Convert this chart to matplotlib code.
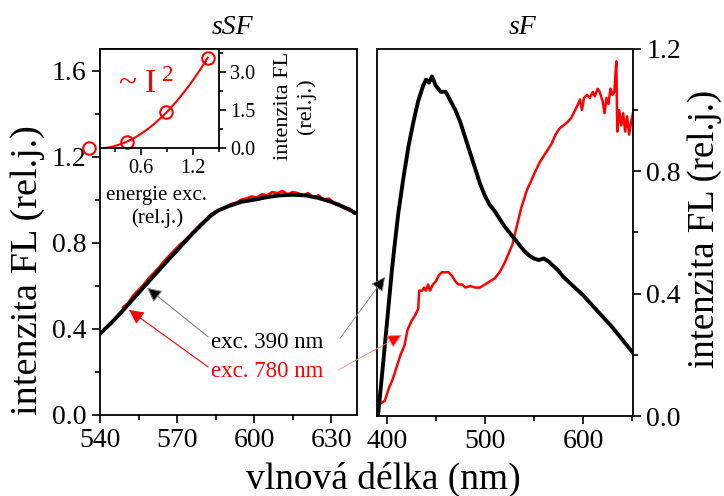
import matplotlib
matplotlib.use("Agg")
import matplotlib.pyplot as plt
import numpy as np
from matplotlib.ticker import MultipleLocator

plt.rcParams['font.family'] = ['Liberation Serif', 'DejaVu Serif']
plt.rcParams['mathtext.fontset'] = 'custom'
plt.rcParams['mathtext.rm'] = 'Liberation Serif'
plt.rcParams['mathtext.it'] = 'Liberation Serif:italic'

# sSF panel (left)
ssf_black_nm = [540, 545, 550, 555, 560, 565, 570, 575, 580, 583, 586, 590, 595,
                600, 605, 610, 615, 620, 625, 630, 635, 640]
ssf_black = [0.377, 0.435, 0.50, 0.567, 0.634, 0.70, 0.765, 0.83, 0.89, 0.925,
             0.95, 0.97, 0.99, 1.0, 1.012, 1.02, 1.023, 1.02, 1.008, 0.99, 0.965, 0.935]
ssf_red_nm = [549, 551, 553, 555, 557, 559, 561, 563, 565, 567, 569, 571, 573, 575,
              577, 579, 581, 583, 585, 587, 589, 591, 593, 595, 597, 599, 601, 603,
              605, 607, 609, 611, 613, 615, 617, 619, 621, 623, 625, 627, 629, 631,
              633, 635, 637, 639, 640]
ssf_red = [0.50, 0.52, 0.555, 0.58, 0.605, 0.635, 0.66, 0.685, 0.715, 0.74, 0.765,
           0.79, 0.81, 0.835, 0.86, 0.885, 0.905, 0.93, 0.945, 0.955, 0.965, 0.98,
           0.985, 1.0, 1.005, 1.015, 1.01, 1.025, 1.02, 1.035, 1.03, 1.04, 1.025,
           1.035, 1.03, 1.02, 1.03, 1.01, 1.02, 1.0, 1.005, 0.985, 0.98, 0.96, 0.96,
           0.935, 0.94]

# sF panel (right)
sf_black_nm = [391, 395, 400, 405, 408, 412, 417, 422, 427, 432, 437, 440, 443, 446,
               450, 455, 460, 465, 470, 475, 480, 485, 490, 495, 500, 505, 510, 515,
               520, 525, 530, 535, 540, 545, 550, 555, 560, 565, 570, 575, 580, 590,
               600, 610, 620, 630, 640, 650]
sf_black = [0.0, 0.13, 0.30, 0.47, 0.56, 0.67, 0.78, 0.88, 0.96, 1.03, 1.08, 1.10,
            1.09, 1.11, 1.08, 1.06, 1.06, 1.03, 1.0, 0.96, 0.91, 0.86, 0.81, 0.76,
            0.72, 0.69, 0.67, 0.645, 0.62, 0.60, 0.58, 0.56, 0.54, 0.525, 0.515,
            0.51, 0.515, 0.505, 0.49, 0.475, 0.455, 0.425, 0.395, 0.36, 0.325, 0.29,
            0.25, 0.21]
sf_red_nm = [390, 393, 398, 402, 406, 410, 414, 418, 421, 425, 429, 432, 433, 436,
             438, 440, 442, 444, 447, 450, 453, 456, 460, 463, 466, 470, 473, 477,
             480, 485, 490, 495, 500, 505, 510, 515, 520, 524, 528, 531, 534, 537,
             540, 543, 546, 550, 553, 556, 560, 564, 568, 572, 576, 580, 584, 588,
             592, 595, 597, 599, 601, 604, 607, 610, 612, 615, 617, 620, 622, 624,
             626, 628, 630, 632, 634, 635, 637, 639, 641, 643, 645, 647, 649, 651]
sf_red = [0.05, 0.04, 0.05, 0.09, 0.12, 0.16, 0.20, 0.23, 0.28, 0.31, 0.33, 0.35,
          0.41, 0.41, 0.42, 0.41, 0.43, 0.41, 0.43, 0.44, 0.46, 0.47, 0.47, 0.47,
          0.46, 0.44, 0.43, 0.43, 0.42, 0.425, 0.42, 0.42, 0.43, 0.44, 0.45, 0.47,
          0.50, 0.53, 0.56, 0.60, 0.64, 0.68, 0.71, 0.74, 0.76, 0.79, 0.81, 0.83,
          0.85, 0.87, 0.89, 0.92, 0.94, 0.95, 0.96, 0.975, 1.0, 1.02, 1.035, 1.0,
          1.04, 1.05, 1.04, 1.06, 1.045, 1.07, 1.06, 1.03, 0.99, 1.04, 1.02, 1.07,
          1.05, 1.06, 1.16, 0.93, 1.0, 0.95, 0.99, 0.93, 0.98, 0.92, 0.96, 0.99]

# inset: FL intensity vs excitation energy
inset_energy = [0.0, 0.44, 0.89, 1.37]
inset_fl = [0.0, 0.23, 1.42, 3.55]

W, H = 724, 496
fig = plt.figure(figsize=(W / 100, H / 100), dpi=100)


def box(x0, y0, x1, y1):
    return [x0 / W, 1 - y1 / H, (x1 - x0) / W, (y1 - y0) / H]


def style(ax, size=20):
    for s in ax.spines.values():
        s.set_linewidth(1.3)
    ax.tick_params(which='both', direction='out', width=1.2, labelsize=size)
    ax.tick_params(which='major', length=6)
    ax.tick_params(which='minor', length=3.5)


ax1 = fig.add_axes(box(100, 49, 357, 415))
ax2 = fig.add_axes(box(377, 49, 633, 416))
axin = fig.add_axes(box(100, 49, 219, 148))

ax1.plot(ssf_black_nm, ssf_black, color='black', lw=2.8, zorder=2)
ax1.plot(ssf_red_nm, ssf_red, color='red', lw=2.0, zorder=1)
ax1.set_xlim(540, 640)
ax1.set_ylim(0, 1.7)
ax1.xaxis.set_major_locator(MultipleLocator(30))
ax1.xaxis.set_minor_locator(MultipleLocator(15))
ax1.yaxis.set_major_locator(MultipleLocator(0.4))
ax1.yaxis.set_minor_locator(MultipleLocator(0.2))
ax1.yaxis.set_major_formatter(lambda v, p: f"{v:.1f}")
style(ax1)
ax1.tick_params(top=False, right=False, which='both')

ax2.plot(sf_black_nm, sf_black, color='black', lw=2.8, zorder=2)
ax2.plot(sf_red_nm, sf_red, color='red', lw=1.8, zorder=1)
ax2.set_xlim(390, 651)
ax2.set_ylim(0, 1.2)
ax2.xaxis.set_major_locator(MultipleLocator(100))
ax2.xaxis.set_minor_locator(MultipleLocator(50))
ax2.yaxis.set_major_locator(MultipleLocator(0.4))
ax2.yaxis.set_minor_locator(MultipleLocator(0.2))
ax2.yaxis.set_major_formatter(lambda v, p: f"{v:.1f}")
ax2.yaxis.tick_right()
style(ax2)
ax2.tick_params(top=False, left=False, which='both')

# inset
fit = np.polyfit(inset_energy, inset_fl, 2)
xs = np.linspace(0, max(inset_energy), 100)
axin.plot(xs, np.polyval(fit, xs), color='red', lw=1.5)
axin.plot(inset_energy, inset_fl, 'o', mfc='none', mec='red', mew=1.5, ms=9,
          clip_on=False)
axin.set_xlim(0.125, 1.5)
axin.set_ylim(0, 3.9)
axin.xaxis.set_major_locator(MultipleLocator(0.6))
axin.xaxis.set_minor_locator(MultipleLocator(0.3))
axin.yaxis.set_major_locator(MultipleLocator(1.5))
axin.yaxis.set_minor_locator(MultipleLocator(0.75))
axin.xaxis.set_major_formatter(lambda v, p: f"{v:.1f}")
axin.yaxis.set_major_formatter(lambda v, p: f"{v:.1f}")
axin.yaxis.tick_right()
style(axin, 14.5)
axin.tick_params(which='major', length=5, pad=3)
axin.tick_params(which='minor', length=3)
axin.tick_params(top=False, left=False, which='both')
axin.text(0.15, 0.64, "~ I$^{\\ 2}$", color='red', fontsize=24,
          transform=axin.transAxes, ha='left', va='center')

fig.text(157 / W, 1 - 207 / H, "energie exc.\n(rel.j.)", fontsize=15,
         ha='center', va='center', multialignment='center', linespacing=1.25)
fig.text(295 / W, 1 - 106 / H, "intenzita FL\n(rel.j.)", fontsize=16,
         rotation=90, ha='center', va='center', multialignment='center',
         linespacing=1.2)

# annotations
ax1.text(583, 0.335, "exc. 390 nm", fontsize=16.5, color='black',
         ha='left', va='center')
ax1.text(583, 0.2, "exc. 780 nm", fontsize=16.5, color='red',
         ha='left', va='center')
ax1.annotate("", xy=(558.3, 0.591), xytext=(582.1, 0.363),
             arrowprops=dict(arrowstyle='-|>', mutation_scale=22, lw=0.8,
                             fc='black', ec='gray', shrinkA=0, shrinkB=0))
ax1.annotate("", xy=(551.3, 0.488), xytext=(582.1, 0.223),
             arrowprops=dict(arrowstyle='-|>', mutation_scale=22, lw=0.8,
                             color='red', shrinkA=0, shrinkB=0))
ax2.annotate("", xy=(398.2, 0.455), xytext=(633.5, 0.358),
             textcoords=ax1.transData, annotation_clip=False,
             arrowprops=dict(arrowstyle='-|>', mutation_scale=22, lw=0.6,
                             fc='black', ec='gray', shrinkA=0, shrinkB=0))
ax2.annotate("", xy=(415.2, 0.265), xytext=(632.7, 0.209),
             textcoords=ax1.transData, annotation_clip=False,
             arrowprops=dict(arrowstyle='-|>', mutation_scale=22, lw=0.6,
                             fc='red', ec='#ff8080', shrinkA=0, shrinkB=0))

# titles and axis labels
fig.text(232 / W, 1 - 28 / H, "sSF", fontsize=20, style='italic',
         ha='center', va='center')
fig.text(523 / W, 1 - 28 / H, "sF", fontsize=20, style='italic',
         ha='center', va='center')
fig.text(383 / W, 1 - 479 / H, "vlnová délka (nm)", fontsize=27,
         ha='center', va='center')
fig.text(28 / W, 1 - 270 / H, "intenzita FL (rel.j.)", fontsize=27.5,
         rotation=90, ha='center', va='center')
fig.text(705 / W, 1 - 229 / H, "intenzita FL (rel.j.)", fontsize=26.5,
         rotation=90, ha='center', va='center')

fig.savefig("out.png", dpi=100)
